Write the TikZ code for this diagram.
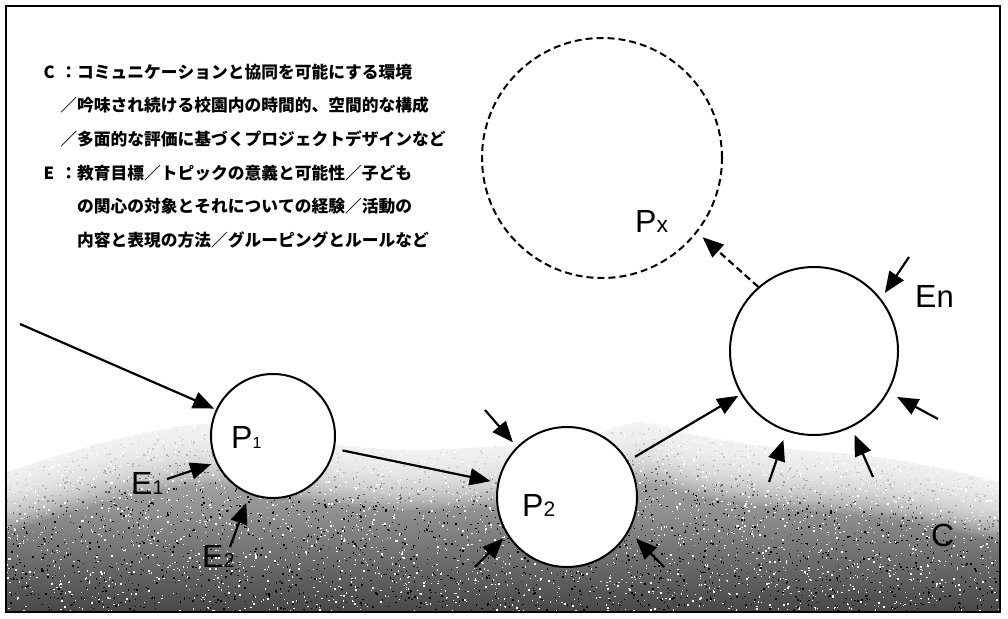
\documentclass[tikz,border=0pt]{standalone}
\usepackage{fontspec}
\setmainfont{Liberation Sans}
\newfontfamily\cjk[Kerning=Off]{Noto Sans CJK JP}
\usetikzlibrary{arrows.meta}
\pgfdeclareverticalshading{texshade}{100bp}{color(0bp)=(black!93); color(25bp)=(black!72); color(50bp)=(black!42); color(75bp)=(black!20); color(100bp)=(black!6)}
\newcommand\sbs[2]{{\fontsize{#1}{#1}\selectfont #2}}
\begin{document}
\begin{tikzpicture}[x=1pt,y=-1pt,
  proc/.style={circle, draw, fill=white, line width=2pt, inner sep=0pt},
  pxcirc/.style={circle, draw, line width=2pt, dash pattern=on 7pt off 4pt, inner sep=0pt},
  arr/.style={line width=2.2pt, -{Triangle[length=21pt,width=17pt]}},
  darr/.style={line width=2.2pt, dash pattern=on 7pt off 4pt, -{Triangle[length=21pt,width=17pt]}},
  lbl/.style={inner sep=0pt, anchor=base west, font=\fontsize{32}{32}\selectfont},
  jtxt/.style={inner sep=0pt, anchor=west, font=\cjk\bfseries\fontsize{16.75}{16.75}\selectfont}]
\useasboundingbox (0,0) rectangle (1008,618);
\fill[white] (0,0) rectangle (1008,618);
% textured ground
\begin{scope}
\clip (6,380) rectangle (1000,612);
\shade[shading=texshade] (6,400) rectangle (1000,612);
\pgfmathsetseed{12}
\foreach \i in {1,...,3400} {\fill[black] ({6+994*rnd},{400+212*rnd}) rectangle +(1.4,1.4);}
\foreach \i in {1,...,3400} {\fill[white] ({6+994*rnd},{400+212*rnd}) rectangle +(1.4,1.4);}
\foreach \k in {1,...,20} {
  \begin{scope}[yshift={-3pt*\k}]
  \fill[white, opacity=0.1] (6,300) -- plot[smooth] coordinates {(6,472) (60,455) (130,436) (210,424) (300,440) (400,450) (500,446) (580,438) (640,422) (700,436) (780,448) (870,456) (940,468) (1000,482)} -- (1000,300) -- cycle;
  \end{scope}}
\fill[white] (6,300) -- plot[smooth] coordinates {(6,472) (60,455) (130,436) (210,424) (300,440) (400,450) (500,446) (580,438) (640,422) (700,436) (780,448) (870,456) (940,468) (1000,482)} -- (1000,300) -- cycle;
\end{scope}
\draw[line width=2pt] (6,6) rectangle (1000,612);
% text
\node[jtxt] (c1) at (43.5,72) {\makebox[1em][l]{C}：コミュニケーションと協同を可能にする環境};
\node[jtxt] (c2) at (60.25,105.6) {／吟味され続ける校園内の時間的、空間的な構成};
\node[jtxt] (c3) at (60.25,139.2) {／多面的な評価に基づくプロジェクトデザインなど};
\node[jtxt] (e1t) at (43.5,172.8) {\makebox[1em][l]{E}：教育目標／トピックの意義と可能性／子ども};
\node[jtxt] (e2t) at (77,206.4) {の関心の対象とそれについての経験／活動の};
\node[jtxt] (e3t) at (77,240) {内容と表現の方法／グルーピングとルールなど};
% circles
\node[proc, minimum size=124pt] (P1) at (273,436) {};
\node[proc, minimum size=140pt] (P2) at (567,497) {};
\node[proc, minimum size=168pt] (En) at (814,351) {};
\node[pxcirc, minimum size=240pt] (Px) at (602,158) {};
% labels
\node[lbl] (lP1) at (231,448) {P\sbs{16}{1}};
\node[lbl] (lP2) at (522,516) {P\sbs{21}{2}};
\node[lbl] (lPx) at (635,232) {P\sbs{23}{x}};
\node[lbl] (lEn) at (915,307) {E\sbs{31}{n}};
\node[lbl] (lE1) at (131,494) {E\sbs{20}{1}};
\node[lbl] (lE2) at (202,567) {E\sbs{20}{2}};
\node[lbl] (lC) at (931,546) {C};
% tails
\coordinate (t0) at (20,324);
\coordinate (t1) at (167,479);
\coordinate (t2) at (230,547);
\coordinate (t3) at (485,410);
\coordinate (t4) at (475,567);
\coordinate (t5) at (664,567);
\coordinate (t6) at (909,257);
\coordinate (t7) at (938,419);
\coordinate (t8) at (769,482);
\coordinate (t9) at (873,477);
% arrows
\draw[arr, shorten >=2pt] (t0) -- (P1.155);
\draw[arr, shorten >=5pt] (t1) -- (P1.205);
\draw[arr, shorten >=9pt] (t2) -- (P1.248);
\draw[arr, shorten <=8pt, shorten >=7pt] (P1) -- (P2);
\draw[arr, shorten >=6pt] (t3) -- (P2.135);
\draw[arr, shorten >=5pt] (t4) -- (P2.212);
\draw[arr, shorten >=10pt] (t5) -- (P2.331);
\draw[arr, shorten <=8pt, shorten >=3pt] (P2) -- (En);
\draw[arr, shorten >=7pt] (t6) -- (En.38);
\draw[arr, shorten >=10pt] (t7) -- (En.-29);
\draw[arr, shorten >=9pt] (t8) -- (En.-109);
\draw[arr, shorten >=8pt] (t9) -- (En.-64);
\draw[darr, shorten >=7pt] (En.131) -- (Px.-38);
\end{tikzpicture}
\end{document}
